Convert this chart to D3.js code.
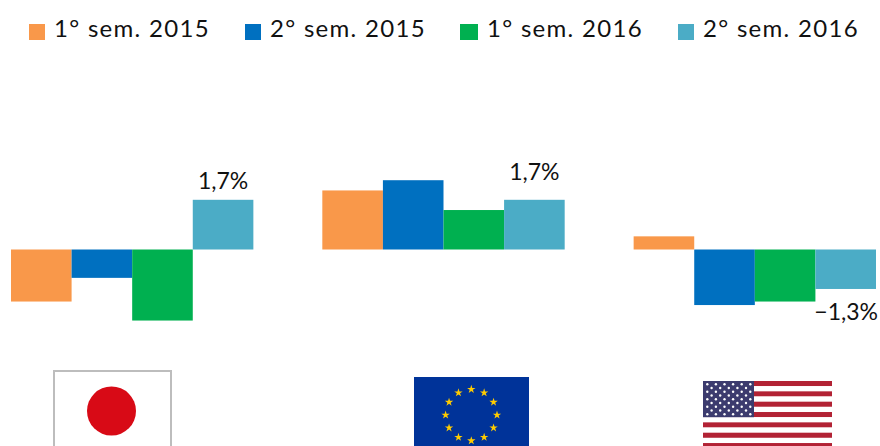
<!DOCTYPE html>
<html><head><meta charset="utf-8">
<script src="https://cdn.jsdelivr.net/npm/d3@7/dist/d3.min.js"></script>
<style>html,body{margin:0;padding:0;background:#fff}svg{display:block}text{font-family:Lato,sans-serif;fill:#111}</style>
</head><body><div id="chart"></div>
<script>
const regions = ["Japão", "União Europeia", "Estados Unidos"];
const seriesNames = ["1° sem. 2015", "2° sem. 2015", "1° sem. 2016", "2° sem. 2016"];
const colors = ["#F9984A", "#0070C0", "#00B050", "#4BACC6"];
const japan = [-1.78, -0.97, -2.43, 1.7];
const europe = [2.02, 2.37, 1.35, 1.7];
const usa = [0.45, -1.9, -1.78, -1.35];
const labels = ["1,7%", "1,7%", "−1,3%"];
const legendX = [29, 245, 460, 678];
const legendW = [16, 16, 18, 16];

const W = 880, H = 446;
const svg = d3.select("#chart").append("svg").attr("width", W).attr("height", H);
const values = [japan, europe, usa];

const x0 = d3.scaleBand().domain(regions).range([11, 876]).paddingInner(0.2215).paddingOuter(0);
const x1 = d3.scaleBand().domain(seriesNames).range([0, x0.bandwidth()]);
const y = d3.scaleLinear().domain([0, 1.7]).range([249.5, 199.8]);

regions.forEach((r, i) => {
  const g = svg.append("g").attr("transform", `translate(${x0(r)},0)`);
  g.selectAll("rect").data(values[i]).join("rect")
    .attr("x", (d, j) => x1(seriesNames[j]))
    .attr("width", x1.bandwidth())
    .attr("y", d => Math.min(y(d), y(0)))
    .attr("height", d => Math.abs(y(d) - y(0)))
    .attr("fill", (d, j) => colors[j]);
  const last = values[i][3];
  g.append("text")
    .attr("x", i === 2 ? x1(seriesNames[3]) + x1.bandwidth() + 2 : x1(seriesNames[3]) + x1.bandwidth() / 2 + (i === 1 ? 0 : 0))
    .attr("y", last < 0 ? y(last) + 31 : y(last) - (i === 1 ? 20 : 11))
    .attr("text-anchor", i === 2 ? "end" : "middle")
    .style("font-size", "23px")
    .text(labels[i]);
});

seriesNames.forEach((s, i) => {
  svg.append("rect").attr("x", legendX[i]).attr("y", 24).attr("width", legendW[i]).attr("height", 16).attr("fill", colors[i]);
  svg.append("text").attr("x", legendX[i] + legendW[i] + 9).attr("y", 37)
    .style("font-size", "24px").style("letter-spacing", "1.3px").text(s);
});

// Japan flag
svg.append("rect").attr("x", 54).attr("y", 371).attr("width", 117).attr("height", 90)
  .attr("fill", "#fff").attr("stroke", "#bdbdbd").attr("stroke-width", 2);
svg.append("circle").attr("cx", 111.5).attr("cy", 411).attr("r", 24.5).attr("fill", "#D80A16");

// EU flag
svg.append("rect").attr("x", 414).attr("y", 377).attr("width", 115).attr("height", 80).attr("fill", "#003399");
const star = d3.symbol().type(d3.symbolStar).size(22);
d3.range(12).forEach(k => {
  const a = k / 12 * 2 * Math.PI;
  svg.append("path").attr("d", star)
    .attr("transform", `translate(${471.3 + 25.7 * Math.sin(a)},${415 - 25.7 * Math.cos(a)})`)
    .attr("fill", "#FFCC00");
});

// US flag
const sh = 5.17;
d3.range(13).forEach(k => {
  svg.append("rect").attr("x", 703).attr("y", 381 + k * sh).attr("width", 129).attr("height", sh)
    .attr("fill", k % 2 ? "#fff" : "#B22234");
});
svg.append("rect").attr("x", 703).attr("y", 381).attr("width", 51).attr("height", 7 * sh).attr("fill", "#3C3B6E");
d3.range(9).forEach(r => {
  d3.range(r % 2 ? 5 : 6).forEach(c => {
    svg.append("circle")
      .attr("cx", 707.3 + (r % 2 ? 4.3 : 0) + c * 8.6)
      .attr("cy", 384.3 + r * 3.75).attr("r", 1.2).attr("fill", "#fff");
  });
});
</script></body></html>
